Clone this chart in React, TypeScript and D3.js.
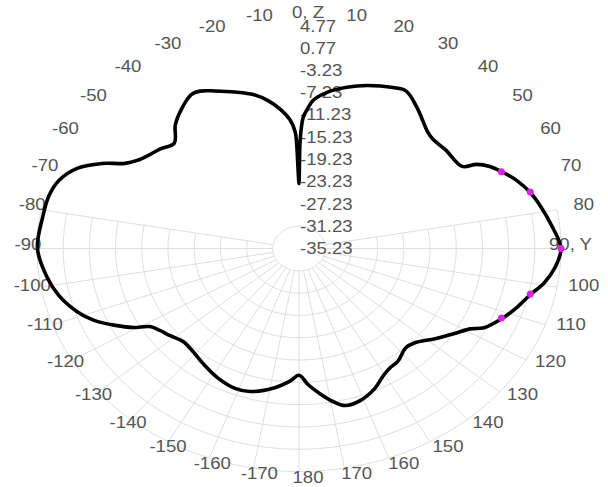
import React from 'react';
import * as d3 from 'd3';

// Pattern data: angle (deg, 0 = Z up, clockwise positive) and gain (dB)
const angles = [
  -180, -176.7, -171.6, -163.7, -158.7, -152.0, -144.8, -138.4, -133.3, -128.5, -124.7, -121.6, -119.2,
  -116.2, -112.4, -108.7, -102.9, -97.5, -90, -81.6, -76.1, -71.6, -66.9, -63.1, -60.1, -57.4, -54.0,
  -50.0, -45.2, -40.4, -35.5, -30.8, -28.2, -24.4, -19.2, -14.0, -10.1, -6.3, -3.4, -1.6, -1.0, -0.6,
  0, 0.3, 0.5, 1.5, 2.8, 4.6, 8.7, 14.2, 19.6, 26.4, 30.1, 35.5, 43.5, 46.1, 51.8, 59.4, 60.9, 63.2,
  65.9, 69.9, 74.2, 78.3, 84.1, 90, 95.0, 99.4, 103.3, 107.9, 112.4, 116.7, 118.9, 122.7, 127.9, 133.9,
  137.5, 143.2, 147.1, 150.7, 155.2, 161.1, 166.0, 169.3, 173.0, 176.8,
];
const gains = [
  -12.5, -11.4, -10.0, -8.5, -8.3, -8.9, -9.9, -10.7, -10.9, -10.1, -9.4, -8.5, -6.2,
  -4.0, -1.4, 0.4, 2.4, 3.6, 4.7, 4.3, 4.1, 3.4, 1.5, -1.5, -4.6, -5.9, -6.8,
  -7.5, -8.4, -6.1, -4.4, -3.1, -3.2, -4.2, -5.5, -6.8, -8.3, -10.2, -12.1, -14.3, -17.2, -20.9,
  -23.6, -19.0, -16.0, -11.8, -10.3, -8.6, -6.9, -5.4, -4.2, -3.0, -2.6, -4.2, -6.6, -6.9, -6.7, -6.3, -4.2, -2.6,
  -1.4, 0.2, 1.5, 2.4, 3.6, 4.77, 4.0, 2.7, 1.0, -0.4, -1.9, -3.6, -5.4, -7.0, -8.9, -10.8,
  -11.1, -10.0, -9.7, -9.0, -7.6, -6.4, -6.2, -7.3, -9.0, -10.8,
];

const ringValues = [-31.23, -27.23, -23.23, -19.23, -15.23, -11.23, -7.23, -3.23, 0.77, 4.77];
const radialLabels = ['4.77', '0.77', '-3.23', '-7.23', '-11.23', '-15.23', '-19.23', '-23.23', '-27.23', '-31.23', '-35.23'];
const radialLabelValues = [4.77, 0.77, -3.23, -7.23, -11.23, -15.23, -19.23, -23.23, -27.23, -31.23, -35.23];

const angleTickValues = [0, 10, 20, 30, 40, 50, 60, 70, 80, 90, 100, 110, 120, 130, 140, 150, 160, 170, 180,
  -170, -160, -150, -140, -130, -120, -110, -100, -90, -80, -70, -60, -50, -40, -30, -20, -10];
const angleTickLabels = ['0, Z', '10', '20', '30', '40', '50', '60', '70', '80', '90, Y', '100', '110', '120', '130', '140', '150', '160', '170', '180',
  '-170', '-160', '-150', '-140', '-130', '-120', '-110', '-100', '-90', '-80', '-70', '-60', '-50', '-40', '-30', '-20', '-10'];

const gridSpokes = [80, 90, 100, 110, 120, 130, 140, 150, 160, 170, 180, 190, 200, 210, 220, 230, 240, 250, 260, 270, 280];

const markerAngles = [66, 74, 90, 103, 112];
const markerGains = [-1.4, 1.5, 4.77, 1.0, -1.9];

const W = 608;
const H = 487;
const CX = 299;
const CY = 248.5;
const RX = 262;
const RY = 223;
const LCX = 308;
const LCY = 244.5;
const LRX = 280;
const LRY = 232.5;

const rScale = d3.scaleLinear().domain([-35.23, 4.77]).range([0, 1]);
const toRad = (d: number) => (d * Math.PI) / 180;
const px = (deg: number, db: number) => CX + RX * rScale(db) * Math.sin(toRad(deg));
const py = (deg: number, db: number) => CY - RY * rScale(db) * Math.cos(toRad(deg));

type P = { a: number; g: number };

export default function App() {
  const data: P[] = angles.map((a, i) => ({ a, g: gains[i] }));
  const curve = d3
    .line<P>()
    .x((d) => px(d.a, d.g))
    .y((d) => py(d.a, d.g))
    .curve(d3.curveCatmullRomClosed.alpha(0.5))(data) as string;

  const arcPts = d3.range(80, 280.5, 1);
  const fullPts = d3.range(0, 361, 2);
  const ringPath = (v: number, pts: number[]) =>
    d3
      .line<number>()
      .x((a) => px(a, v))
      .y((a) => py(a, v))(pts) as string;

  const textColor = '#555';
  const fontFamily = '"Liberation Sans", Arial, sans-serif';
  const sx = 1.16;

  return (
    <svg
      width={W}
      height={H}
      style={{ position: 'absolute', left: 0, top: 0, background: '#fff' }}
    >
      <rect x={0} y={0} width={W} height={H} fill="#fff" />
      <g stroke="#dedede" strokeWidth={1} fill="none">
        {ringValues.map((v, i) => (
          <path key={'r' + i} d={i === 0 ? ringPath(v, fullPts) : ringPath(v, arcPts)} />
        ))}
        {gridSpokes.map((a) => (
          <line
            key={'s' + a}
            x1={px(a, ringValues[0])}
            y1={py(a, ringValues[0])}
            x2={px(a, ringValues[ringValues.length - 1])}
            y2={py(a, ringValues[ringValues.length - 1])}
          />
        ))}
      </g>
      <g fill={textColor} fontFamily={fontFamily} fontSize={16}>
        {radialLabels.map((t, i) => (
          <text
            key={'rl' + i}
            transform={`translate(${CX + 1},${py(0, radialLabelValues[i]) + (i === 0 ? 1 : 0)}) scale(${sx},1)`}
            dy="0.36em"
            textAnchor="start"
          >
            {t}
          </text>
        ))}
        {angleTickValues.map((a, i) => {
          const x = LCX + LRX * Math.sin(toRad(a));
          const y = LCY - LRY * Math.cos(toRad(a));
          const isY = angleTickLabels[i].includes('Y');
          return (
            <text
              key={'al' + i}
              transform={`translate(${isY ? x + 4 : x},${y}) scale(${sx},1)`}
              dy="0.36em"
              textAnchor={isY ? 'end' : 'middle'}
            >
              {angleTickLabels[i]}
            </text>
          );
        })}
      </g>
      <path d={curve} fill="none" stroke="#000" strokeWidth={3.6} strokeLinejoin="round" />
      <g fill="#e020e8">
        {markerAngles.map((a, i) => (
          <circle key={'m' + i} cx={px(a, markerGains[i])} cy={py(a, markerGains[i])} r={3.5} />
        ))}
      </g>
    </svg>
  );
}
